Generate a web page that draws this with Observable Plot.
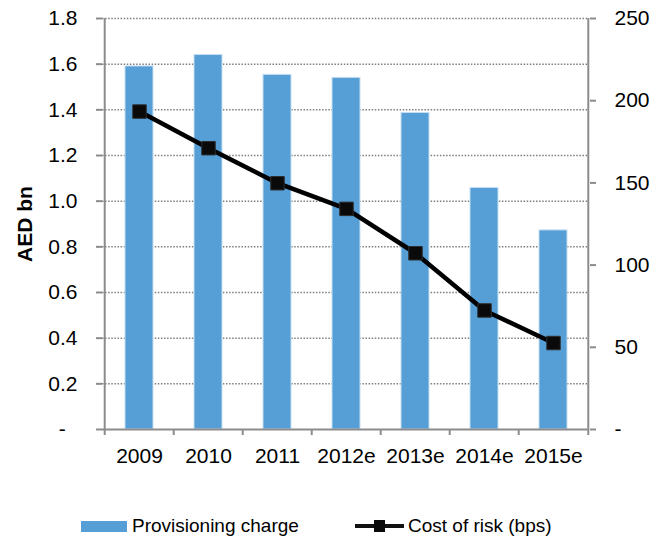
<!DOCTYPE html>
<html>
<head>
<meta charset="utf-8">
<script src="https://cdn.jsdelivr.net/npm/d3@7"></script>
<script src="https://cdn.jsdelivr.net/npm/@observablehq/plot@0.6"></script>
<style>
  html, body { margin: 0; padding: 0; background: #fff; }
  body { width: 664px; height: 541px; overflow: hidden; font-family: "Liberation Sans", Arial, sans-serif; }
  #legend { position: relative; height: 41px; font-size: 19px; color: #000; }
  .item { position: absolute; top: 14px; display: flex; align-items: center; height: 24px; }
  .sw { width: 46px; height: 11px; background: #559fd6; margin-right: 5px; }
  .ln { position: relative; width: 49px; height: 4px; background: #111; margin-right: 4px; }
  .ln::after { content: ""; position: absolute; left: 19px; top: -4px; width: 11px; height: 12px; background: #0a0a0a; }
</style>
</head>
<body>
<div id="chart"></div>
<div id="legend">
  <div class="item" style="left:81px"><div class="sw"></div><span>Provisioning charge</span></div>
  <div class="item" style="left:355px"><div class="ln"></div><span>Cost of risk (bps)</span></div>
</div>
<script>
const years = ["2009", "2010", "2011", "2012e", "2013e", "2014e", "2015e"];
const provisioning = [1.59, 1.64, 1.553, 1.54, 1.386, 1.058, 0.872];
const costOfRisk = [193.4, 171.1, 149.8, 134.2, 107.2, 72.4, 52.6];
const leftTicks = [0, 0.2, 0.4, 0.6, 0.8, 1.0, 1.2, 1.4, 1.6, 1.8];
const rightTicks = [0, 50, 100, 150, 200, 250];

const k = 1.8 / 250;
const data = years.map((year, i) => ({year, prov: provisioning[i], risk: costOfRisk[i] * k}));

const W = 664, H = 500, mL = 102, mR = 75, mT = 18, mB = 71;
const step = (W - mL - mR) / years.length;
const axisGray = "#8c8c8c";
const fs = 21;

const chart = Plot.plot({
  width: W, height: H,
  marginLeft: mL, marginRight: mR, marginTop: mT, marginBottom: mB,
  style: {fontFamily: '"Liberation Sans", Arial, sans-serif', fontSize: fs + "px", color: "#000", background: "#fff", overflow: "visible"},
  x: {domain: years, paddingInner: 0.6, paddingOuter: 0.3, axis: null},
  y: {domain: [0, 1.8], axis: null},
  marks: [
    Plot.gridY(leftTicks.filter(d => d > 0), {stroke: "#7f7f7f", strokeOpacity: 1, strokeWidth: 1.5, strokeDasharray: "1.5 1.6"}),
    Plot.barY(data, {x: "year", y: "prov", fill: "#559fd6", stroke: "#c6def2", strokeWidth: 1}),
    Plot.ruleY([0], {stroke: axisGray, strokeWidth: 2}),
    Plot.ruleX([years[0]], {stroke: axisGray, strokeWidth: 2, dx: -step / 2}),
    Plot.ruleX([years[years.length - 1]], {stroke: axisGray, strokeWidth: 2, dx: step / 2}),
    Plot.axisY({ticks: leftTicks, tickSize: 6, tickPadding: 19, strokeWidth: 2, stroke: axisGray, fill: "#000", label: null, fontSize: fs,
      tickFormat: d => d === 0 ? "-\u00a0\u00a0" : d.toFixed(1)}),
    Plot.axisY({anchor: "right", ticks: rightTicks.map(v => v * k), tickSize: 6, tickPadding: 19, strokeWidth: 2, stroke: axisGray, fill: "#000", label: null, fontSize: fs,
      tickFormat: d => { const v = Math.round(d / k); return v === 0 ? "-" : String(v); }}),
    Plot.axisX({ticks: years, tickSize: 6, strokeWidth: 2, stroke: axisGray, tickFormat: () => "", dx: -step / 2, label: null}),
    Plot.axisX({ticks: [years[years.length - 1]], tickSize: 6, strokeWidth: 2, stroke: axisGray, tickFormat: () => "", dx: step / 2, label: null}),
    Plot.axisX({ticks: years, tickSize: 0, tickPadding: 19, fill: "#000", label: null, fontSize: fs}),
    Plot.line(data, {x: "year", y: "risk", stroke: "#000", strokeWidth: 4.5}),
    Plot.dot(data, {x: "year", y: "risk", symbol: "square", r: 7.6, fill: "#0a0a0a", stroke: "#2e2e2e", strokeWidth: 1}),
    Plot.text(["AED bn"], {frameAnchor: "left", textAnchor: "middle", dx: -77, rotate: -90, fontWeight: "bold", fontSize: fs, fill: "#000"})
  ]
});
document.getElementById("chart").appendChild(chart);
</script>
</body>
</html>
